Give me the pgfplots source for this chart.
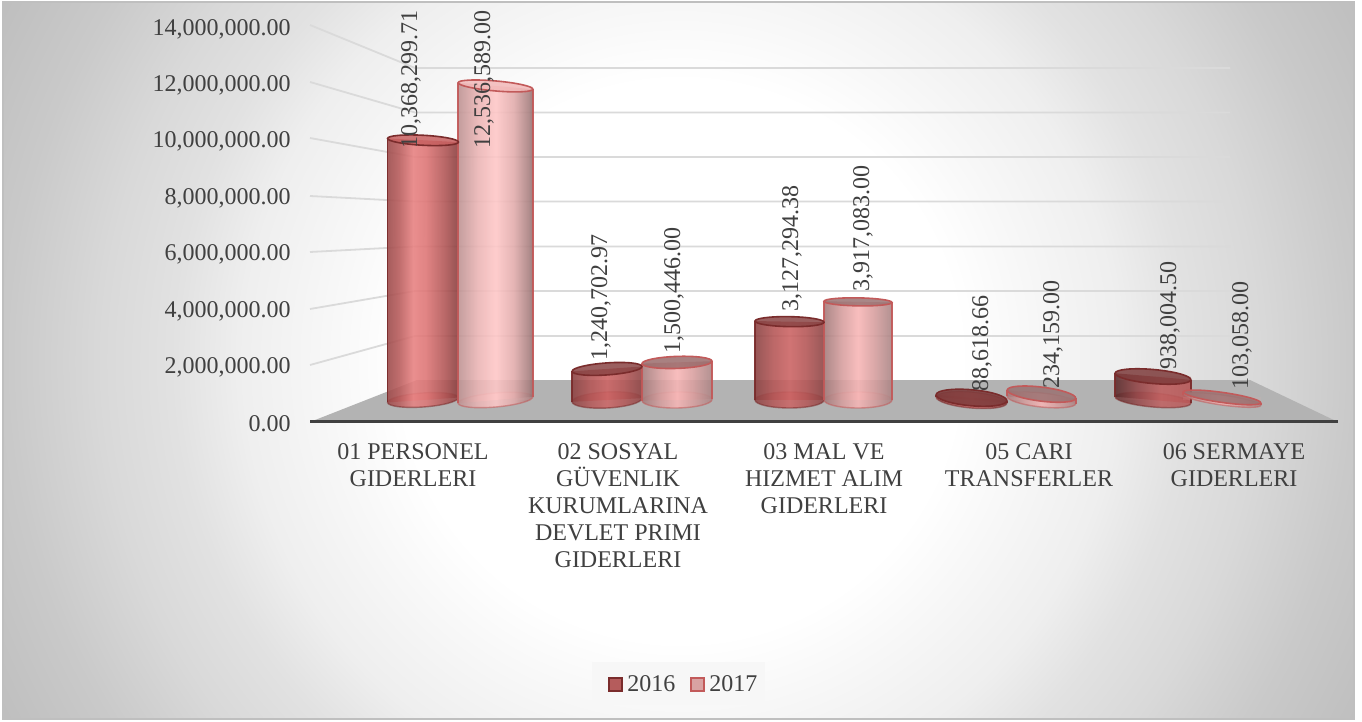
\documentclass[border=0pt]{standalone}
\usepackage{fontspec}
\setmainfont{Liberation Serif}
\usepackage{pgfplots}
\pgfplotsset{compat=1.18}
\definecolor{txt}{HTML}{404040}
\definecolor{gridc}{HTML}{DADADA}
\definecolor{floorc}{HTML}{B3B3B3}
\definecolor{aE}{HTML}{7A2C2C}
\definecolor{bE}{HTML}{C25A5A}
\definecolor{fA}{HTML}{CC6666}
\definecolor{fB}{HTML}{F0B0B0}
\definecolor{lgA}{HTML}{B55C5C}
\definecolor{lgB}{HTML}{D9A3A3}
\definecolor{tAa}{HTML}{C76060}
\definecolor{tBa}{HTML}{F2B9B9}
\definecolor{tAb}{HTML}{8A4545}
\definecolor{tBb}{HTML}{9A6B6B}
\definecolor{tBc}{HTML}{9A7272}
\definecolor{tAc}{HTML}{7D3B3B}
\definecolor{a1}{HTML}{9C4A4A}\definecolor{a2}{HTML}{B85C5C}\definecolor{a3}{HTML}{E88282}
\definecolor{a4}{HTML}{DE7676}\definecolor{a5}{HTML}{AE5454}\definecolor{a6}{HTML}{863C3C}
\definecolor{b1}{HTML}{BC9292}\definecolor{b2}{HTML}{EAB4B4}\definecolor{b3}{HTML}{FFC8C8}
\definecolor{b4}{HTML}{E2ACAC}\definecolor{b5}{HTML}{A88080}\definecolor{b6}{HTML}{8E6C6C}
\definecolor{c1}{HTML}{8A4242}\definecolor{c2}{HTML}{B45656}\definecolor{c3}{HTML}{CC6464}\definecolor{c4}{HTML}{8C4444}
\definecolor{d1}{HTML}{A27A7A}\definecolor{d2}{HTML}{D69E9E}\definecolor{d3}{HTML}{F8B6B6}\definecolor{d4}{HTML}{A88484}
\definecolor{e1}{HTML}{5A2C2C}\definecolor{e2}{HTML}{96484A}\definecolor{e3}{HTML}{C06060}\definecolor{e4}{HTML}{B85858}
\pgfdeclarehorizontalshading{sA}{100bp}{color(0bp)=(a1);color(25bp)=(a1);color(33bp)=(a2);color(43bp)=(a3);color(52bp)=(a4);color(66bp)=(a5);color(75bp)=(a6);color(100bp)=(a6)}
\pgfdeclarehorizontalshading{sB}{100bp}{color(0bp)=(b1);color(25bp)=(b1);color(38bp)=(b2);color(50bp)=(b3);color(62bp)=(b4);color(72bp)=(b5);color(75bp)=(b6);color(100bp)=(b6)}
\pgfdeclarehorizontalshading{sC}{100bp}{color(0bp)=(c1);color(25bp)=(c1);color(38bp)=(c2);color(50bp)=(c3);color(62bp)=(c2);color(75bp)=(c4);color(100bp)=(c4)}
\pgfdeclarehorizontalshading{sD}{100bp}{color(0bp)=(d1);color(25bp)=(d1);color(38bp)=(d2);color(50bp)=(d3);color(62bp)=(d2);color(75bp)=(d4);color(100bp)=(d4)}
\pgfdeclarehorizontalshading{sE}{100bp}{color(0bp)=(e1);color(25bp)=(e1);color(40bp)=(e2);color(55bp)=(e3);color(75bp)=(e4);color(100bp)=(e4)}
\pgfdeclareradialshading{bgs}{\pgfpointorigin}{%
 rgb(0bp)=(1,1,1);rgb(8.75bp)=(1,1,1);rgb(10.6bp)=(0.975,0.975,0.975);rgb(13.75bp)=(0.935,0.935,0.935);
 rgb(15.8bp)=(0.885,0.885,0.885);rgb(18.1bp)=(0.85,0.85,0.85);rgb(21bp)=(0.79,0.79,0.79);rgb(23.75bp)=(0.75,0.75,0.75);rgb(25bp)=(0.73,0.73,0.73);rgb(50bp)=(0.73,0.73,0.73)}
\pgfdeclareplotmark{ell}{\pgfpathellipse{\pgfpointorigin}{\pgfqpoint{\pgfplotmarksize}{0pt}}{\pgfqpoint{0pt}{\pgfplotmarksize}}\pgfusepathqfillstroke}
\pgfplotsset{
 canvas/.style={scale only axis,width=681pt,height=361pt,at={(0,0)},anchor=south west,hide axis,clip=true},
 pix/.style={canvas,xmin=0,xmax=1362,ymin=0,ymax=722,y dir=reverse},
}
\newcommand\cylbase[6]{% edge shading cx w tilt ry
 \pgfmathsetmacro\rx{#4/4}\pgfmathsetmacro\ry{#6/2}
 \pgfmathsetmacro\db{#4/4*sin(#5)}
 \edef\temp{\noexpand\path[shade,shading=#2,draw=#1,draw opacity=.55,fill opacity=.85,line width=.7pt,shift={(axis cs:#3,0)},rotate=#5] (0pt,0pt) ellipse [x radius=\rx pt,y radius=\ry pt];}\temp
}
\newcommand\cyltop[7]{% edge cx w value tilt ry col
 \pgfmathsetmacro\dt{#3/4*sin(#5)}
 \xdef\dtop{\dt}
 \addplot[only marks,mark=ell,mark size=1pt,mark options={rotate=#5,xscale=#3/4,yscale=#6/2,draw=#1,fill=#7,fill opacity=.85,line width=.8pt},forget plot] coordinates {(#2,#4)};
}
\newcommand\firsttilt[3]{#1}
\newcommand\firsttiltb[2]{#1}
\newcommand\cyl[8]{% #1 edge #2 plot fill #3 shading #4 cx #5 w #6 value #7 top{tilt,ry,col} #8 base{tilt,ry}
 \pgfmathsetmacro\xl{#4-#5/2}\pgfmathsetmacro\xr{#4+#5/2}
 \pgfmathsetmacro\dt{#5/4*sin(\firsttilt#7)}
 \pgfmathsetmacro\db{#5/4*sin(\firsttiltb#8)}
 \cylbase{#1}{#3}{#4}{#5}#8
 \pgfmathsetmacro\db{#5/4*sin(\firsttiltb#8)}
 \addplot[ybar,bar shift=0pt,bar width=#5,draw=none,fill=#2,fill opacity=.12,forget plot] coordinates {(#4,#6)};
 \edef\temp{\noexpand\path[shade,shading=#3,fill opacity=.88]
   ([yshift=-\db pt]axis cs:\xl,0) -- ([yshift=\db pt]axis cs:\xr,0) -- ([yshift=\dt pt]axis cs:\xr,#6) -- ([yshift=-\dt pt]axis cs:\xl,#6) -- cycle;
  \noexpand\draw[#1,line width=.75pt,opacity=.95] ([yshift=-\db pt]axis cs:\xl,0) -- ([yshift=-\dt pt]axis cs:\xl,#6);
  \noexpand\draw[#1,line width=.75pt,opacity=.95] ([yshift=\db pt]axis cs:\xr,0) -- ([yshift=\dt pt]axis cs:\xr,#6);}\temp
 \cyltop{#1}{#4}{#5}{#6}#7
}
\newcommand\vlab[3]{\node[rotate=90,anchor=west,inner sep=0pt,text=txt,font=\fontsize{12}{13.5}\selectfont,xshift=-1.75pt,yshift=-1pt] at (axis cs:#1,#2) {#3};}
\begin{document}
\begin{tikzpicture}
\useasboundingbox (0,0) rectangle (681pt,361pt);
% scene: background, walls, floor
\begin{axis}[pix]
 \fill[white] (axis cs:0,0) rectangle (axis cs:1362,722);
 \begin{scope}
 \clip (axis cs:3,2) rectangle (axis cs:1354,719);
 \fill[black!27] (axis cs:0,0) rectangle (axis cs:1362,722);
 \path[shade,shading=bgs] (axis cs:680,361) circle (400pt);
 \end{scope}
 \draw[black!25,line width=1pt] (axis cs:3,2) rectangle (axis cs:1354,719);
 \fill[black!3] (axis cs:592,662) rectangle (axis cs:765,705);
 \addplot[fill=floorc,draw=none,forget plot] coordinates {(310,422)(417,380)(1250,380)(1338,422)} -- cycle;
 \addplot[gridc,line width=.9pt] coordinates {(310,365)(415,336)(1230,336)};
 \addplot[gridc,line width=.9pt] coordinates {(310,309)(415,291)(1230,291)};
 \addplot[gridc,line width=.9pt] coordinates {(310,252)(415,246.5)(1230,246.5)};
 \addplot[gridc,line width=.9pt] coordinates {(310,196)(415,201.5)(1230,201.5)};
 \addplot[gridc,line width=.9pt] coordinates {(310,138)(415,157)(1230,157)};
 \addplot[gridc,line width=.9pt] coordinates {(310,82)(415,112.5)(1230,112.5)};
 \addplot[gridc,line width=.9pt] coordinates {(310,25)(415,68)(1230,68)};
\end{axis}
% value axis
\begin{axis}[scale only axis,width=514pt,height=197.5pt,at={(155pt,150pt)},anchor=south west,
 xmin=310,xmax=1338,ymin=0,ymax=14000000,
 axis y line*=left,axis x line*=bottom,
 y axis line style={draw=none},x axis line style={draw=txt,line width=1.5pt,-},
 major tick length=0pt,
 xtick={413,618,824,1029,1234},
 xticklabels={{01 PERSONEL\\GIDERLERI},{02 SOSYAL\\GÜVENLIK\\KURUMLARINA\\DEVLET PRIMI\\GIDERLERI},{03 MAL VE\\HIZMET ALIM\\GIDERLERI},{05 CARI\\TRANSFERLER},{06 SERMAYE\\GIDERLERI}},
 xticklabel style={align=center,text=txt,font=\fontsize{12}{13.5}\selectfont,inner sep=0pt,yshift=-10.5pt},
 ytick={0,2000000,4000000,6000000,8000000,10000000,12000000,14000000},
 scaled y ticks=false,
 yticklabel style={text=txt,font=\fontsize{12}{13.5}\selectfont,inner sep=0pt,anchor=east,xshift=-9.5pt,yshift=-1pt,/pgf/number format/.cd,fixed,fixed zerofill,precision=2,1000 sep={,},assume math mode=true},
]
\end{axis}
% cylinders: value axis of the bars, 0 at py 400, 25.05 px per million
\begin{axis}[canvas,xmin=0,xmax=1362,ymin=-12854000,ymax=15968000,
 legend style={at={(685/1362,37/722)},anchor=center,fill=none,draw=none,legend columns=2,inner xsep=4.75pt,inner ysep=4.25pt,
   font=\fontsize{12}{13.5}\selectfont,text=txt,/tikz/every even column/.append style={column sep=5.5pt}},
 legend image code/.code={\draw[#1,line width=1pt] (0pt,-3pt) rectangle (6.5pt,3.5pt);},
]
 \addlegendimage{draw=aE,fill=lgA}
 \addlegendentry{2016}
 \addlegendimage{draw=bE,fill=lgB}
 \addlegendentry{2017}
 % 2016 / 2017 per category
 \cyl{aE}{fA}{sA}{423}{71}{10368299.71}{{-3}{5}{tAa}}{{4}{7}}
 \cyl{bE}{fB}{sB}{495.5}{75}{12536589.00}{{-5}{5}{tBa}}{{5}{7}}
 \cyl{aE}{fA}{sC}{607}{70}{1240702.97}{{4}{6}{tAb}}{{3}{8}}
 \cyl{bE}{fB}{sD}{677}{70}{1500446.00}{{2}{6}{tBb}}{{1}{8}}
 \cyl{aE}{fA}{sC}{789.5}{69}{3127294.38}{{-1}{5}{tAb}}{{0}{8}}
 \cyl{bE}{fB}{sD}{858}{68}{3917083.00}{{-1}{4}{tBc}}{{0}{8}}
 \cyl{aE}{fA}{sC}{971.5}{71}{88618.66}{{-5}{8}{tAc}}{{-5}{8}}
 \cyl{bE}{fB}{sD}{1041.5}{69}{234159.00}{{-7}{7}{tBc}}{{-6}{7}}
 \cyl{aE}{fA}{sE}{1153}{76}{938004.50}{{-5}{7}{tAc}}{{-5}{7}}
 \cyl{bE}{fB}{sD}{1222}{78}{103058.00}{{-8}{5}{tBc}}{{-8}{5}}
\end{axis}
% value labels
\begin{axis}[pix]
 \vlab{409}{145}{10,368,299.71}
 \vlab{482}{145}{12,536,589.00}
 \vlab{599}{357}{1,240,702.97}
 \vlab{672}{350}{1,500,446.00}
 \vlab{790}{308}{3,127,294.38}
 \vlab{861}{288}{3,917,083.00}
 \vlab{980}{388}{88,618.66}
 \vlab{1051}{385}{234,159.00}
 \vlab{1168}{366}{938,004.50}
 \vlab{1240}{386}{103,058.00}
\end{axis}
\end{tikzpicture}
\end{document}
